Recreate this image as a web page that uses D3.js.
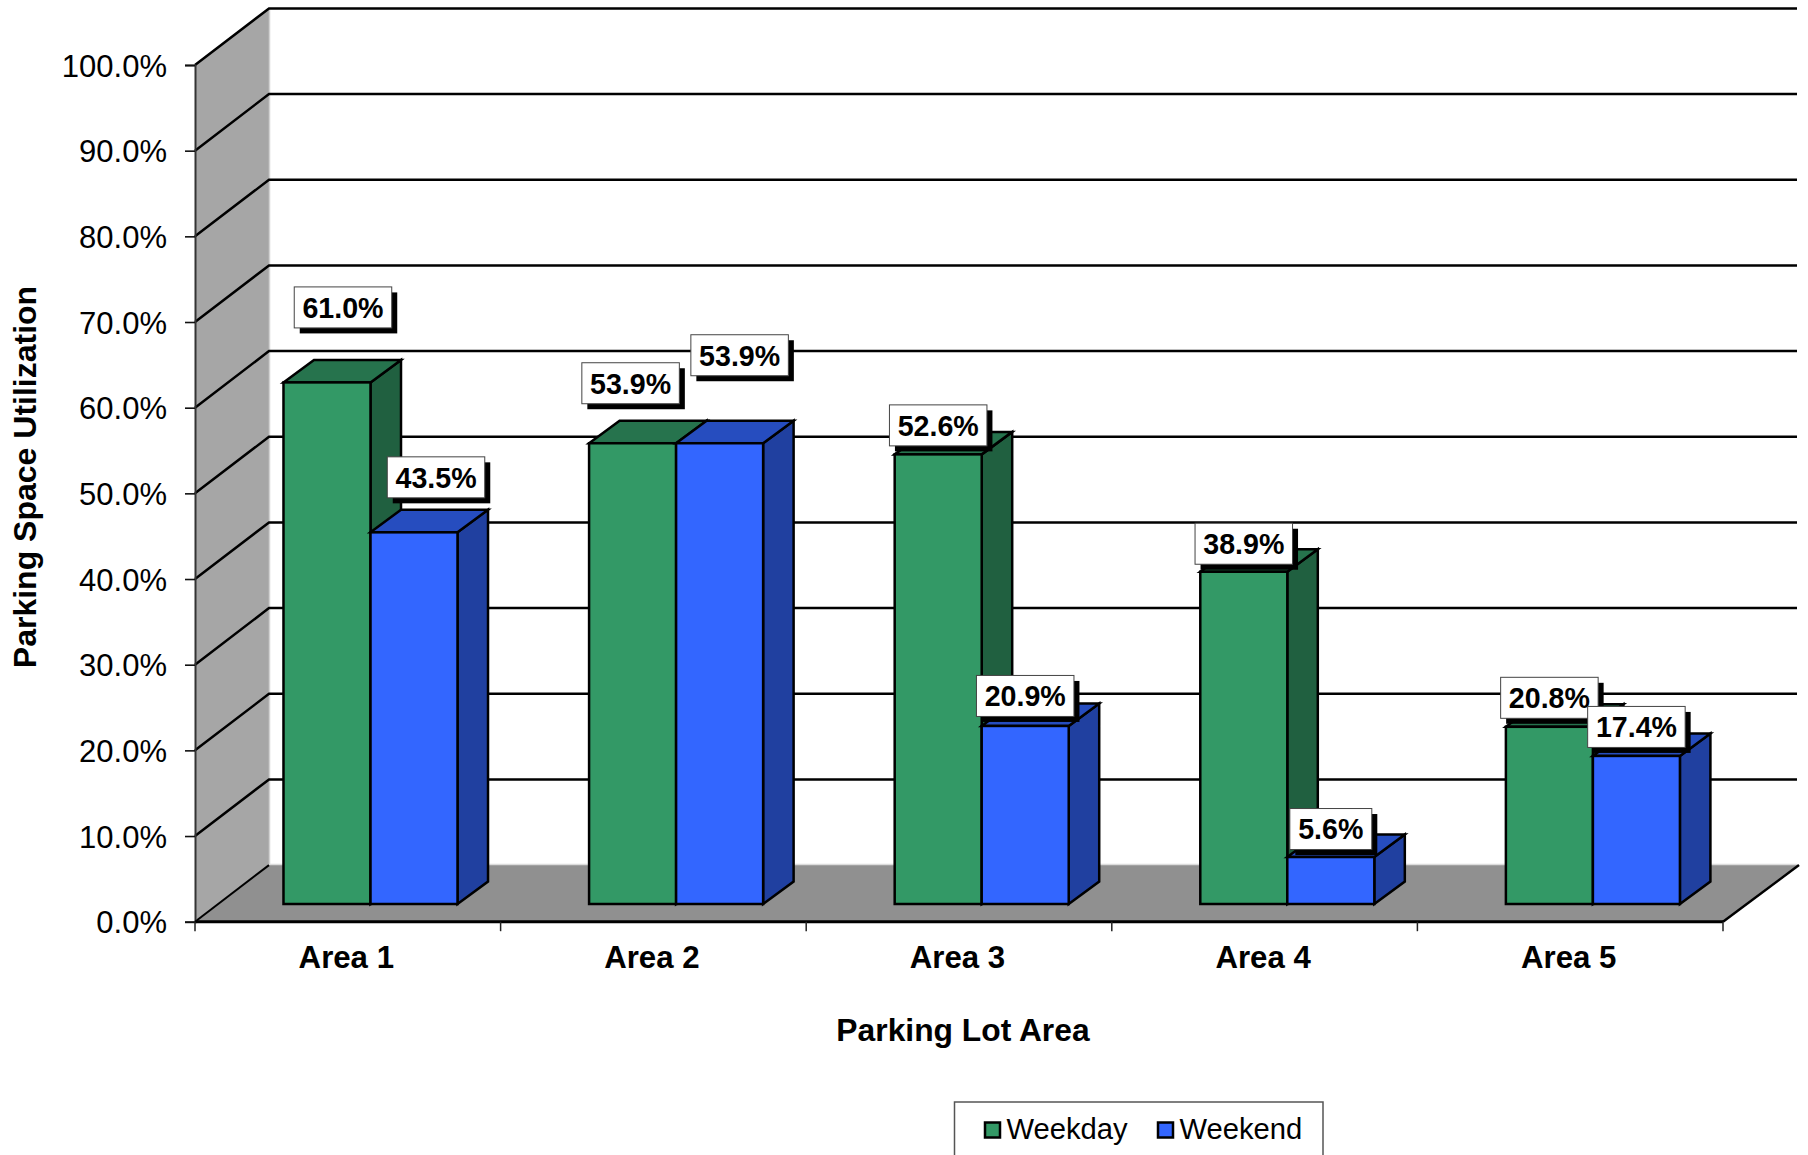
<!DOCTYPE html>
<html>
<head>
<meta charset="utf-8">
<style>html,body{margin:0;padding:0;background:#fff;overflow:hidden}svg{display:block}text{font-family:"Liberation Sans",Arial,sans-serif;fill:#000}</style>
<script src="https://cdn.jsdelivr.net/npm/d3@7"></script>
</head>
<body>
<svg id="c" width="1808" height="1155"></svg>
<script>
const categories = ["Area 1","Area 2","Area 3","Area 4","Area 5"];
const seriesNames = ["Weekday","Weekend"];
const weekday = [61.0,53.9,52.6,38.9,20.8];
const weekend = [43.5,53.9,20.9,5.6,17.4];
const yTicks = [0,10,20,30,40,50,60,70,80,90,100];
const xAxisTitle = "Parking Lot Area";
const yAxisTitle = "Parking Space Utilization";

// hand-placed label offsets from each bar's front-top centre (layout, not data)
const weekdayLabelShift = [[16,-74],[-2,-59],[0,-28],[0,-27],[0,-28]];
const weekendLabelShift = [[22,-54],[20,-87],[0,-29],[0,-27],[0,-28]];

const colors = {
  Weekday:{front:"#339966",top:"#26734D",side:"#206040"},
  Weekend:{front:"#3366FF",top:"#264DBF",side:"#2040A0"}
};

const L=195, R=1723, T=65, B=921.7;
const floorDx=74, floorDy=-56.6;
const barShiftX=22.7, barShiftY=-17.7, barTopDrop=1;
const barDx=30.5, barDy=-22.5;

const svg=d3.select("#c");
const y=d3.scaleLinear().domain([0,100]).range([B,T]);
const x=d3.scaleBand().domain(categories).range([L,R]).paddingInner(0).paddingOuter(0);
const inner=d3.scaleBand().domain(seriesNames).range([0,x.bandwidth()]).paddingOuter(0.756).paddingInner(0);
const poly=p=>p.map(d=>d.join(",")).join(" ");

// wall
svg.append("polygon").attr("points",poly([[L,B],[L+floorDx,B+floorDy],[L+floorDx,T+floorDy],[L,T]])).attr("fill","#A6A6A6");
svg.append("line").attr("x1",L+floorDx+.5).attr("x2",L+floorDx+.5).attr("y1",T+floorDy).attr("y2",B+floorDy).attr("stroke","#d2d2d2").attr("stroke-width",1.5);
// floor
svg.append("polygon").attr("points",poly([[L,B],[L+floorDx,B+floorDy],[R+floorDx+2,B+floorDy],[R,B]])).attr("fill","#909090");
svg.append("line").attr("x1",L+floorDx).attr("x2",R+floorDx).attr("y1",B+floorDy-.5).attr("y2",B+floorDy-.5).attr("stroke","#dcdcdc").attr("stroke-width",1.5);

// gridlines
const grid=svg.append("g").attr("fill","none").attr("stroke","#000").attr("stroke-width",2.5);
yTicks.forEach(t=>{
  if(t>0) grid.append("polyline").attr("points",poly([[L,y(t)],[L+floorDx,y(t)+floorDy],[R+floorDx,y(t)+floorDy]]));
});
// floor edges
grid.append("line").attr("x1",L).attr("y1",B).attr("x2",L+floorDx).attr("y2",B+floorDy).attr("stroke-width",2);
grid.append("line").attr("x1",R).attr("y1",B).attr("x2",R+floorDx+2).attr("y2",B+floorDy).attr("stroke-width",2.5);

// y axis
const yAxis=d3.axisLeft(y).tickValues(yTicks).tickSize(10).tickPadding(18).tickFormat(d=>d3.format(".1f")(d)+"%");
const gy=svg.append("g").attr("transform",`translate(${L},0)`).call(yAxis);
gy.select(".domain").attr("stroke","#333").attr("stroke-width",2);
gy.selectAll(".tick line").attr("stroke","#111").attr("stroke-width",1.6);
gy.selectAll("text").attr("font-size",31).attr("dy","0.36em").attr("font-family",'"Liberation Sans",Arial,sans-serif');

// x axis
const xAxis=d3.axisBottom(x).tickSize(0).tickPadding(24.5);
const gx=svg.append("g").attr("transform",`translate(0,${B})`).call(xAxis);
gx.select(".domain").attr("stroke","#000").attr("stroke-width",3).attr("d",`M${L},0H${R}`);
gx.selectAll("text").attr("font-size",31.2).attr("font-weight","bold").attr("dx",-1.5).attr("font-family",'"Liberation Sans",Arial,sans-serif');
d3.range(categories.length+1).forEach(i=>{
  const px=L+i*x.step();
  svg.append("line").attr("x1",px).attr("x2",px).attr("y1",B).attr("y2",B+9.5).attr("stroke","#222").attr("stroke-width",1.5);
});

// bars
const rows=categories.map((c,i)=>({c,i,vals:[{s:"Weekday",v:weekday[i],shift:weekdayLabelShift[i]},{s:"Weekend",v:weekend[i],shift:weekendLabelShift[i]}]}));
const bars=svg.append("g").attr("stroke","#000").attr("stroke-width",2.5).attr("stroke-linejoin","miter");
rows.forEach(r=>{
  r.vals.forEach(d=>{
    const x0=x(r.c)+inner(d.s)+barShiftX, w=inner.bandwidth(), x1=x0+w;
    const by=y(0)+barShiftY, ty=y(d.v)+barShiftY+barTopDrop;
    const col=colors[d.s];
    const g=bars.append("g");
    g.append("polygon").attr("fill",col.side).attr("points",poly([[x1,by],[x1+barDx,by+barDy],[x1+barDx,ty+barDy],[x1,ty]]));
    g.append("polygon").attr("fill",col.top).attr("points",poly([[x0,ty],[x0+barDx,ty+barDy],[x1+barDx,ty+barDy],[x1,ty]]));
    g.append("rect").attr("fill",col.front).attr("x",x0).attr("y",ty).attr("width",w).attr("height",by-ty);
  });
});

// data labels
const labels=svg.append("g");
rows.forEach(r=>{
  r.vals.forEach(d=>{
    const cx=x(r.c)+inner(d.s)+barShiftX+inner.bandwidth()/2+d.shift[0];
    const cy=y(d.v)+barShiftY+d.shift[1];
    const g=labels.append("g").attr("transform",`translate(${cx},${cy})`);
    const txt=d3.format(".1f")(d.v)+"%";
    const w=txt.length>4?97.5:82, h=41;
    g.append("rect").attr("x",-w/2+5.5).attr("y",-h/2+5.5).attr("width",w).attr("height",h).attr("fill","#000");
    g.append("rect").attr("x",-w/2).attr("y",-h/2).attr("width",w).attr("height",h).attr("fill","#fff").attr("stroke","#444").attr("stroke-width",1);
    g.append("text").attr("text-anchor","middle").attr("dy","0.36em").attr("font-size",28.6).attr("font-weight","bold").text(txt);
  });
});

// titles
svg.append("text").attr("x",963).attr("y",1041).attr("text-anchor","middle").attr("font-size",31.8).attr("font-weight","bold").text(xAxisTitle);
svg.append("text").attr("transform","translate(36,477) rotate(-90)").attr("text-anchor","middle").attr("font-size",32).attr("font-weight","bold").text(yAxisTitle);

// legend
svg.append("rect").attr("x",954.5).attr("y",1102).attr("width",368.5).attr("height",80).attr("fill","#fff").attr("stroke","#555").attr("stroke-width",1.5);
const legendX=[985,1158];
seriesNames.forEach((s,i)=>{
  svg.append("rect").attr("x",legendX[i]).attr("y",1122.5).attr("width",15).attr("height",15).attr("fill",colors[s].front).attr("stroke","#000").attr("stroke-width",2.5);
  svg.append("text").attr("x",legendX[i]+21.5).attr("y",1139).attr("font-size",29.2).text(s);
});
</script>
</body>
</html>
